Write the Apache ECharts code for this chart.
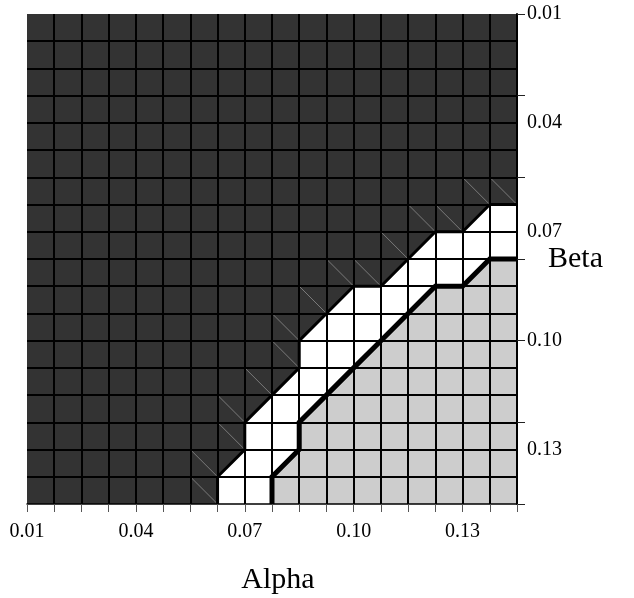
<!DOCTYPE html>
<html>
<head>
<meta charset="utf-8">
<script src="https://cdn.jsdelivr.net/npm/echarts@6/dist/echarts.min.js"></script>
<style>
html, body { margin: 0; padding: 0; background: #fff; }
#regionChart { width: 634px; height: 598px; }
</style>
</head>
<body>
<div id="regionChart"></div>
<script>
// parameter grid
const alphaMin = 0.01, alphaMax = 0.145
const betaMin = 0.01, betaMax = 0.145
const cellStep = 0.0075
const alphaLabels = ['0.01', '0.04', '0.07', '0.10', '0.13']
const betaLabels = ['0.01', '0.04', '0.07', '0.10', '0.13']

// contour between dark and white region
const upperAlpha = [0.0625, 0.0625, 0.07, 0.07, 0.0775, 0.085, 0.085, 0.0925, 0.1, 0.1075, 0.115, 0.1225, 0.13, 0.1375, 0.145]
const upperBeta = [0.145, 0.1375, 0.13, 0.1225, 0.115, 0.1075, 0.1, 0.0925, 0.085, 0.085, 0.0775, 0.07, 0.07, 0.0625, 0.0625]
// contour between white and grey region
const lowerAlpha = [0.0775, 0.0775, 0.085, 0.085, 0.0925, 0.1, 0.1075, 0.115, 0.1225, 0.13, 0.1375, 0.145]
const lowerBeta = [0.145, 0.1375, 0.13, 0.1225, 0.115, 0.1075, 0.1, 0.0925, 0.085, 0.085, 0.0775, 0.0775]

const font = 'Liberation Serif, Times New Roman, serif'

const upperPts = upperAlpha.map((a, i) => [a, upperBeta[i]])
const lowerPts = lowerAlpha.map((a, i) => [a, lowerBeta[i]])

// filled regions, built from the two contours and the plot corners
const regions = [
  { color: '#333333', pts: [[alphaMin, betaMin], [alphaMax, betaMin]].concat(upperPts.slice().reverse(), [[alphaMin, betaMax]]) },
  { color: '#ffffff', pts: upperPts.concat(lowerPts.slice().reverse()) },
  { color: '#cdcdcd', pts: lowerPts.concat([[alphaMax, betaMax]]) },
]

const hiddenAxisBits = {
  axisLine: { show: false },
  axisTick: { show: false },
  axisLabel: { show: false },
  splitLine: { show: false },
}

const option = {
  animation: false,
  backgroundColor: '#fff',
  grid: {
    left: 27,
    top: 14,
    right: 117,
    bottom: 94,
    containLabel: false,
    outerBoundsMode: 'none',
  },
  xAxis: [
    {
      type: 'value',
      position: 'bottom',
      min: alphaMin,
      max: alphaMax,
      interval: cellStep,
      z: 3,
      axisLine: { show: true, onZero: false, lineStyle: { color: '#000', width: 1.5 } },
      axisTick: { show: true, length: 8, lineStyle: { color: '#555', width: 1 } },
      axisLabel: {
        formatter: (v, i) => (i % 4 === 0 ? alphaLabels[i / 4] || '' : ''),
        fontFamily: font,
        fontSize: 20,
        color: '#000',
        margin: 18,
      },
      splitLine: { show: true, showMinLine: false, showMaxLine: false, lineStyle: { color: '#000', width: 2 } },
      name: 'Alpha',
      nameLocation: 'middle',
      nameGap: 61,
      nameMoveOverlap: false,
      nameTextStyle: { fontFamily: font, fontSize: 30, color: '#000', padding: [0, 0, 0, 12] },
    },
  ],
  yAxis: [
    // cell grid lines
    Object.assign({
      type: 'value',
      position: 'right',
      inverse: true,
      min: betaMin,
      max: betaMax,
      interval: cellStep,
      z: 3,
    }, hiddenAxisBits, {
      splitLine: { show: true, showMinLine: false, showMaxLine: false, lineStyle: { color: '#000', width: 2 } },
    }),
    // labels every 4 cells
    Object.assign({
      type: 'value',
      position: 'right',
      inverse: true,
      min: betaMin,
      max: betaMax,
      interval: 0.03,
      z: 3,
    }, hiddenAxisBits, {
      axisLabel: {
        show: true,
        formatter: (v, i) => betaLabels[i] || '',
        fontFamily: font,
        fontSize: 20,
        color: '#000',
        margin: 10,
      },
      name: 'Beta',
      nameLocation: 'middle',
      nameRotate: 0,
      nameGap: 31,
      nameMoveOverlap: false,
      nameTextStyle: { fontFamily: font, fontSize: 30, color: '#000', padding: [14, 0, 0, 0] },
    }),
    // axis line and ticks every 3 cells
    Object.assign({
      type: 'value',
      position: 'right',
      inverse: true,
      min: betaMin,
      max: betaMax,
      interval: 0.0225,
      z: 3,
    }, hiddenAxisBits, {
      axisLine: { show: true, onZero: false, lineStyle: { color: '#000', width: 2 } },
      axisTick: { show: true, length: 8, lineStyle: { color: '#222', width: 1 } },
    }),
  ],
  series: [
    {
      type: 'custom',
      coordinateSystem: 'cartesian2d',
      xAxisIndex: 0,
      yAxisIndex: 0,
      silent: true,
      z: 1,
      data: regions.map((r, i) => [alphaMin, betaMin, i]),
      renderItem: (params, api) => {
        const reg = regions[params.dataIndex]
        return {
          type: 'polygon',
          shape: { points: reg.pts.map((p) => api.coord(p)) },
          style: { fill: reg.color, stroke: null },
        }
      },
    },
    {
      // faint seams in the dark cells touching the upper contour
      type: 'custom',
      coordinateSystem: 'cartesian2d',
      xAxisIndex: 0,
      yAxisIndex: 0,
      silent: true,
      z: 2,
      data: upperPts,
      renderItem: (params, api) => {
        const a = api.value(0)
        const b = api.value(1)
        const p0 = api.coord([a - cellStep, b - cellStep])
        const p1 = api.coord([a, b])
        return {
          type: 'line',
          shape: { x1: p0[0], y1: p0[1], x2: p1[0], y2: p1[1] },
          style: { stroke: '#7a7a7a', lineWidth: 1 },
        }
      },
    },
    {
      type: 'line',
      xAxisIndex: 0,
      yAxisIndex: 0,
      data: upperPts,
      symbol: 'none',
      silent: true,
      z: 5,
      lineStyle: { color: '#000', width: 3, join: 'miter' },
    },
    {
      type: 'line',
      xAxisIndex: 0,
      yAxisIndex: 0,
      data: lowerPts,
      symbol: 'none',
      silent: true,
      z: 5,
      lineStyle: { color: '#000', width: 5, join: 'miter' },
    },
  ],
}

const chart = echarts.init(document.getElementById('regionChart'))
chart.setOption(option)
window.onresize = function () {
  chart.resize()
}
</script>
</body>
</html>
